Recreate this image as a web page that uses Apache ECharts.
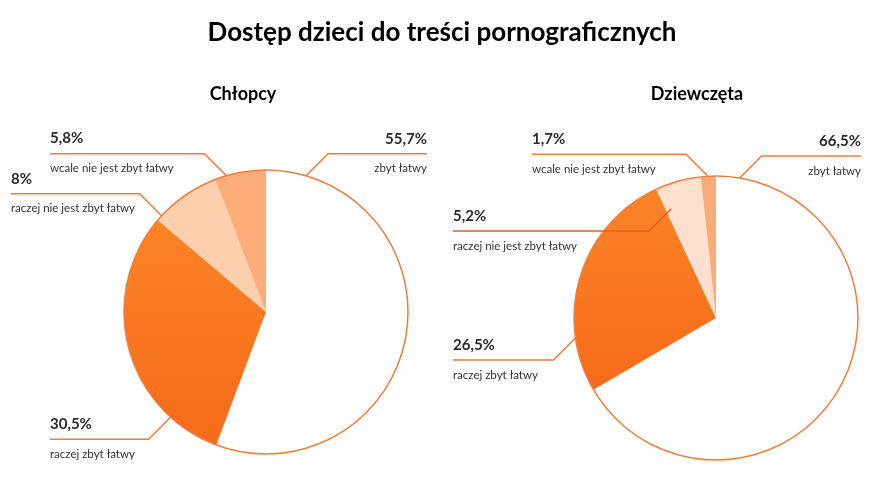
<!DOCTYPE html>
<html>
<head>
<meta charset="utf-8">
<script src="https://cdn.jsdelivr.net/npm/echarts@6/dist/echarts.min.js"></script>
<style>
  html, body { margin: 0; padding: 0; background: #fff; }
  #chart-container { width: 890px; height: 500px; }
</style>
</head>
<body>
<div id="chart-container"></div>
<script>
var dom = document.getElementById("chart-container");
var myChart = echarts.init(dom, null, { renderer: "canvas" });

// dane
const categories = [
  "zbyt łatwy",
  "raczej zbyt łatwy",
  "raczej nie jest zbyt łatwy",
  "wcale nie jest zbyt łatwy",
];
const boysValues = [55.7, 30.5, 8, 5.8];
const girlsValues = [66.5, 26.5, 5.2, 1.7];

// style
const LINE = "#ef7d3c";
const orange = new echarts.graphic.LinearGradient(0, 0, 0, 1, [
  { offset: 0, color: "#fc8326" },
  { offset: 1, color: "#f56b1b" },
]);
const boysColors = ["#ffffff", orange, "#fdcfac", "#fbac78"];
const girlsColors = ["#ffffff", orange, "#fde1ce", "#f9ab78"];
const RADIUS = 142;
const CENTERS = [[266, 312], [716, 318]];

// gdzie podpiac linie: kat (od gory, zgodnie z zegarem), promien, strona, pion, koniec linii
const labelPos = [
  [
    { ang: 16.4, rf: 1, h: 1, v: -1, endX: 427 },
    { ang: 222.2, rf: 1, h: -1, v: 1, endX: 50 },
    { ang: -47.3, rf: 1, h: -1, v: -1, endX: 11 },
    { ang: -16.2, rf: 1, h: -1, v: -1, endX: 50 },
  ],
  [
    { ang: 9.6, rf: 1, h: 1, v: -1, endX: 861 },
    { ang: 261.9, rf: 1, h: -1, v: 1, endX: 453 },
    { ang: -22.4, rf: 0.83, h: -1, v: 1, endX: 453, dark: true },
    { ang: -3.2, rf: 1, h: -1, v: -1, endX: 532 },
  ],
];

function fmt(v) {
  return String(v).replace(".", ",") + "%";
}

function makeLayout(si) {
  return function (params) {
    const p = labelPos[si][params.dataIndex];
    const c = CENTERS[si];
    const a = (p.ang * Math.PI) / 180;
    const r = RADIUS * p.rf;
    const ax = c[0] + r * Math.sin(a);
    const ay = c[1] - r * Math.cos(a);
    const ex = ax + p.h * 22;
    const ey = ay + p.v * 22;
    return {
      x: p.endX,
      y: ey,
      align: p.h > 0 ? "right" : "left",
      verticalAlign: "middle",
      labelLinePoints: [[ax, ay], [ex, ey], [p.endX, ey]],
    };
  };
}

// wycinki
function pieSeries(si, values, colors) {
  return {
    type: "pie",
    center: CENTERS[si],
    radius: RADIUS,
    startAngle: 90,
    clockwise: true,
    silent: true,
    data: values.map((v, i) => ({
      name: categories[i],
      value: v,
      itemStyle: { color: colors[i] },
    })),
    label: { show: false },
    labelLine: { show: false },
    z: 2,
  };
}

// podpisy z liniami - osobna warstwa nad wycinkami
function labelSeries(si, values) {
  return {
    type: "pie",
    center: CENTERS[si],
    radius: RADIUS,
    startAngle: 90,
    clockwise: true,
    avoidLabelOverlap: false,
    silent: true,
    data: values.map((v, i) => ({
      name: categories[i],
      value: v,
      labelLine: labelPos[si][i].dark
        ? { lineStyle: { color: "#e0601c", width: 1.5 } }
        : undefined,
    })),
    itemStyle: { color: "transparent" },
    label: {
      show: true,
      position: "outside",
      formatter: (p) => "{p|" + fmt(p.value) + "}\n{d|" + p.name + "}",
      rich: {
        p: { fontFamily: "Lato", fontWeight: "bold", fontSize: 15, color: "#2a2a2a", lineHeight: 30 },
        d: { fontFamily: "Lato", fontSize: 11.5, color: "#333", lineHeight: 30 },
      },
    },
    labelLine: { show: true, lineStyle: { color: LINE, width: 1.5 } },
    labelLayout: makeLayout(si),
    z: 4,
  };
}

function outline(si) {
  return {
    type: "pie",
    center: CENTERS[si],
    radius: RADIUS,
    silent: true,
    data: [{ value: 1 }],
    label: { show: false },
    labelLine: { show: false },
    itemStyle: { color: "transparent", borderColor: LINE, borderWidth: 1.5 },
    z: 3,
  };
}

var option = {
  backgroundColor: "#fff",
  animation: false,
  title: [
    {
      text: "Dostęp dzieci do treści pornograficznych",
      left: 437,
      top: 15,
      textAlign: "center",
      textStyle: { fontFamily: "Lato", fontWeight: "bold", fontSize: 26, color: "#000" },
    },
    {
      text: "Chłopcy",
      left: 238,
      top: 80,
      textAlign: "center",
      textStyle: { fontFamily: "Lato", fontWeight: "bold", fontSize: 18, color: "#000" },
    },
    {
      text: "Dziewczęta",
      left: 692,
      top: 80,
      textAlign: "center",
      textStyle: { fontFamily: "Lato", fontWeight: "bold", fontSize: 18, color: "#000" },
    },
  ],
  series: [
    pieSeries(0, boysValues, boysColors),
    pieSeries(1, girlsValues, girlsColors),
    outline(0),
    outline(1),
    labelSeries(0, boysValues),
    labelSeries(1, girlsValues),
  ],
};

myChart.setOption(option);
window.addEventListener("resize", myChart.resize);
</script>
</body>
</html>
